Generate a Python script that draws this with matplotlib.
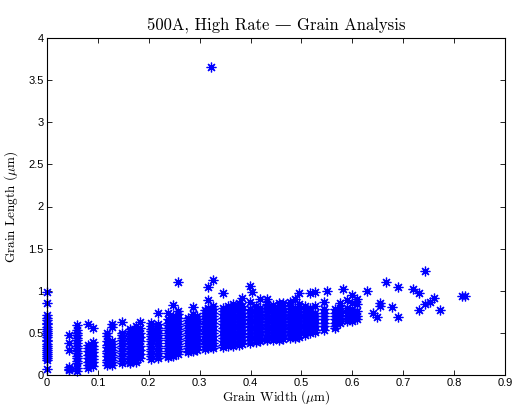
import matplotlib
matplotlib.use('Agg')
import matplotlib.pyplot as plt
import numpy as np

plt.rcParams['mathtext.fontset'] = 'cm'
plt.rcParams['axes.unicode_minus'] = False

# grain widths are quantised, so the data is kept per width column
col_x = [0.0, 0.043, 0.058, 0.081, 0.091, 0.117, 0.128, 0.147, 0.163, 0.175,
         0.183, 0.205, 0.218, 0.237, 0.247, 0.257, 0.277, 0.287, 0.294, 0.31,
         0.317, 0.327, 0.345, 0.355, 0.366, 0.377, 0.384, 0.399, 0.403, 0.41,
         0.418, 0.432, 0.445, 0.455, 0.464, 0.477, 0.487, 0.496, 0.507, 0.517,
         0.527, 0.545, 0.55, 0.566, 0.576, 0.581, 0.589, 0.599, 0.61, 0.629,
         0.641, 0.648, 0.654, 0.667, 0.678, 0.689, 0.72, 0.731, 0.743, 0.752,
         0.76, 0.773, 0.815, 0.822, 0.322]
col_y = [
    [0.98, 0.85, 0.71, 0.68, 0.65, 0.62, 0.60, 0.57, 0.55, 0.52, 0.50, 0.47, 0.45,
     0.42, 0.40, 0.37, 0.35, 0.32, 0.30, 0.27, 0.25, 0.22, 0.20, 0.18, 0.07],
    [0.47, 0.38, 0.30, 0.10, 0.07, 0.06],
    [0.59, 0.53, 0.50, 0.47, 0.44, 0.41, 0.38, 0.35, 0.32, 0.29, 0.26, 0.23, 0.20,
     0.17, 0.14, 0.08, 0.05],
    [0.61, 0.36, 0.32, 0.28, 0.24, 0.20, 0.16, 0.12, 0.08],
    [0.56, 0.39, 0.35, 0.31, 0.27, 0.23, 0.19, 0.15, 0.11],
    [0.50, 0.46, 0.40, 0.36, 0.33, 0.29, 0.26, 0.22, 0.18, 0.15, 0.12],
    [0.61, 0.57, 0.40, 0.37, 0.33, 0.30, 0.27, 0.24, 0.21, 0.18, 0.15, 0.12],
    [0.63, 0.50, 0.47, 0.44, 0.41, 0.38, 0.35, 0.32, 0.29, 0.26, 0.23, 0.20, 0.17, 0.14],
    [0.55, 0.52, 0.49, 0.46, 0.43, 0.40, 0.37, 0.34, 0.31, 0.28, 0.25, 0.22, 0.19, 0.16, 0.14],
    [0.58, 0.54, 0.51, 0.48, 0.45, 0.42, 0.39, 0.36, 0.33, 0.30, 0.27, 0.24, 0.21, 0.18, 0.15],
    [0.63, 0.56, 0.50, 0.45, 0.40, 0.35, 0.30, 0.25, 0.20],
    [0.62, 0.58, 0.55, 0.52, 0.49, 0.46, 0.43, 0.40, 0.37, 0.34, 0.31, 0.28, 0.25, 0.22, 0.19],
    [0.74, 0.60, 0.56, 0.53, 0.50, 0.47, 0.44, 0.41, 0.38, 0.35, 0.32, 0.29, 0.26, 0.23, 0.20],
    [0.74, 0.66, 0.62, 0.59, 0.56, 0.53, 0.50, 0.47, 0.44, 0.41, 0.38, 0.35, 0.32, 0.29,
     0.26, 0.23, 0.21],
    [0.83, 0.70, 0.64, 0.60, 0.57, 0.54, 0.51, 0.48, 0.45, 0.42, 0.39, 0.36, 0.33, 0.30,
     0.27, 0.24, 0.22],
    [1.10, 0.76, 0.72, 0.68, 0.64, 0.61, 0.58, 0.55, 0.52, 0.49, 0.46, 0.43, 0.40, 0.37,
     0.34, 0.31, 0.28, 0.25],
    [0.68, 0.65, 0.62, 0.59, 0.56, 0.53, 0.50, 0.47, 0.44, 0.41, 0.38, 0.35, 0.32, 0.29, 0.27],
    [0.81, 0.72, 0.68, 0.64, 0.60, 0.57, 0.54, 0.51, 0.48, 0.45, 0.42, 0.39, 0.36, 0.33,
     0.30, 0.28],
    [0.70, 0.66, 0.62, 0.58, 0.54, 0.50, 0.46, 0.42, 0.38, 0.34, 0.30],
    [0.77, 0.73, 0.70, 0.67, 0.64, 0.61, 0.58, 0.55, 0.52, 0.49, 0.46, 0.43, 0.40, 0.37,
     0.34, 0.31],
    [1.04, 0.89, 0.80, 0.76, 0.72, 0.68, 0.64, 0.60, 0.56, 0.52, 0.48, 0.44, 0.40, 0.36, 0.32],
    [1.13, 0.82, 0.78, 0.74, 0.70, 0.66, 0.62, 0.58, 0.54, 0.50, 0.46, 0.42, 0.38, 0.34, 0.32],
    [0.97, 0.80, 0.76, 0.72, 0.68, 0.64, 0.60, 0.56, 0.52, 0.48, 0.44, 0.40, 0.36, 0.33],
    [0.82, 0.78, 0.74, 0.70, 0.66, 0.62, 0.58, 0.54, 0.50, 0.46, 0.42, 0.38, 0.34],
    [0.84, 0.79, 0.75, 0.71, 0.67, 0.63, 0.59, 0.55, 0.51, 0.47, 0.43, 0.39, 0.35],
    [0.86, 0.80, 0.76, 0.72, 0.68, 0.64, 0.60, 0.56, 0.52, 0.48, 0.44, 0.40, 0.36],
    [0.91, 0.82, 0.77, 0.73, 0.69, 0.65, 0.61, 0.57, 0.53, 0.49, 0.45, 0.41, 0.37],
    [1.06, 0.87, 0.78, 0.74, 0.70, 0.66, 0.62, 0.58, 0.54, 0.50, 0.46, 0.42, 0.38],
    [0.99],
    [0.82, 0.78, 0.74, 0.70, 0.66, 0.62, 0.58, 0.54, 0.50, 0.46, 0.42, 0.39],
    [0.90, 0.80, 0.76, 0.72, 0.68, 0.64, 0.60, 0.56, 0.52, 0.48, 0.44, 0.40],
    [0.90, 0.84, 0.79, 0.75, 0.71, 0.67, 0.63, 0.59, 0.55, 0.51, 0.47, 0.43, 0.41],
    [0.83, 0.78, 0.74, 0.70, 0.66, 0.62, 0.58, 0.54, 0.50, 0.46, 0.42],
    [0.85, 0.80, 0.76, 0.72, 0.68, 0.64, 0.60, 0.56, 0.52, 0.48, 0.44, 0.42],
    [0.85, 0.79, 0.75, 0.71, 0.67, 0.63, 0.59, 0.55, 0.51, 0.47, 0.43],
    [0.87, 0.82, 0.76, 0.72, 0.68, 0.64, 0.60, 0.56, 0.52, 0.48, 0.44],
    [0.90, 0.80, 0.75, 0.70, 0.66, 0.62, 0.58, 0.54, 0.50, 0.46, 0.44],
    [0.97, 0.84, 0.78, 0.72, 0.68, 0.64, 0.60, 0.56, 0.52, 0.48, 0.45],
    [0.82, 0.76, 0.72, 0.68, 0.64, 0.60, 0.56, 0.52, 0.48],
    [0.97, 0.80, 0.76, 0.72, 0.68, 0.64, 0.60, 0.56, 0.52, 0.50],
    [0.99, 0.82, 0.74, 0.70, 0.66, 0.62, 0.58, 0.54, 0.51],
    [0.87, 0.78, 0.74, 0.70, 0.66, 0.62, 0.58, 0.54],
    [1.00],
    [0.78, 0.74, 0.70, 0.66, 0.62, 0.58, 0.56],
    [0.85, 0.80, 0.75, 0.70, 0.66, 0.62],
    [1.02],
    [0.89, 0.80, 0.74, 0.68, 0.64],
    [0.95, 0.86, 0.78, 0.72, 0.67, 0.64],
    [0.90, 0.84, 0.76, 0.70, 0.66],
    [1.00],
    [0.73],
    [0.69],
    [0.86, 0.82],
    [1.10],
    [0.81],
    [1.04, 0.69],
    [1.02],
    [0.97, 0.77],
    [1.24, 0.84],
    [0.87],
    [0.91],
    [0.77],
    [0.94],
    [0.94],
    [3.66],
]

width = []
length = []
for cx, ys in zip(col_x, col_y):
    for v in ys:
        width.append(cx)
        length.append(v)
width = np.array(width)
length = np.array(length)

fig = plt.figure(figsize=(5.14, 4.08), dpi=100)
ax = fig.add_axes([47/514, 33/408, 458/514, 337/408])

# matlab style '*' : eight-armed asterisk
ax.plot(width, length, linestyle='none', marker=(8, 2, 0), color=(0, 0, 1),
        ms=7, mew=0.9, clip_on=False)

ax.set_xlim(0, 0.9)
ax.set_ylim(0, 4)
ax.set_xticks(np.arange(0, 0.91, 0.1))
ax.set_yticks(np.arange(0, 4.01, 0.5))
ax.set_xticklabels(['0', '0.1', '0.2', '0.3', '0.4', '0.5', '0.6', '0.7', '0.8', '0.9'])
ax.set_yticklabels(['0', '0.5', '1', '1.5', '2', '2.5', '3', '3.5', '4'])
ax.tick_params(direction='in', top=True, right=True, length=3.5, width=0.6,
               labelsize=8, pad=2.5)
for lab in ax.get_xticklabels() + ax.get_yticklabels():
    lab.set_family('Liberation Sans')
for s in ax.spines.values():
    s.set_linewidth(0.8)

ax.set_title('500A, High Rate \u2014 Grain Analysis', family=['cmr10', 'DejaVu Serif'],
             fontsize=12, pad=6)
ax.set_xlabel(r'Grain Width ($\mu$m)', family=['cmr10', 'DejaVu Serif'], fontsize=9.5,
              labelpad=0)
ax.set_ylabel(r'Grain Length ($\mu$m)', family=['cmr10', 'DejaVu Serif'], fontsize=9.5,
              labelpad=6)

fig.savefig('out.png', dpi=100)
